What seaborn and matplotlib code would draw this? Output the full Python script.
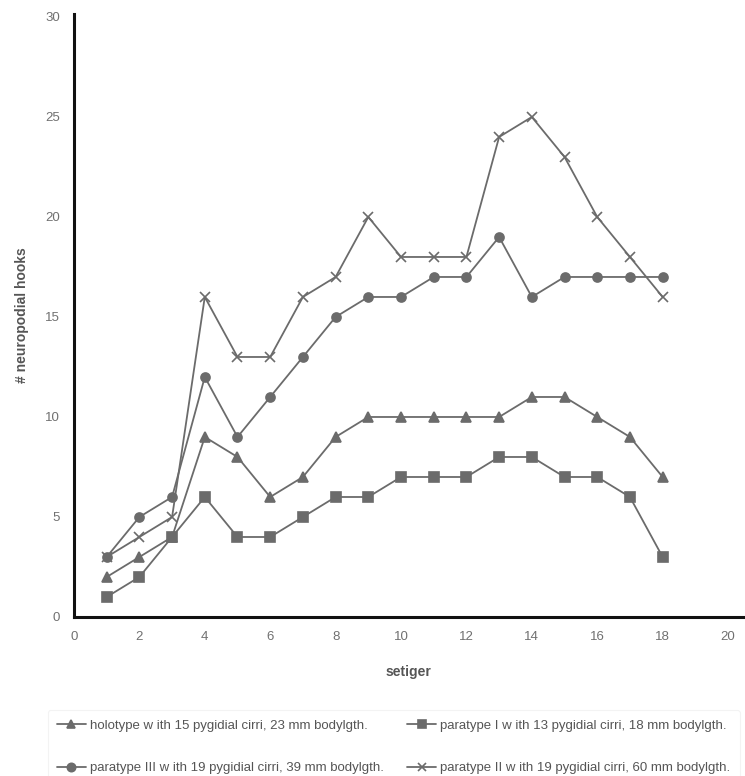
import pandas as pd
import numpy as np
import seaborn as sns
import matplotlib.pyplot as plt

setiger = list(range(1, 19))
holotype = [2, 3, 4, 9, 8, 6, 7, 9, 10, 10, 10, 10, 10, 11, 11, 10, 9, 7]
paratype_1 = [1, 2, 4, 6, 4, 4, 5, 6, 6, 7, 7, 7, 8, 8, 7, 7, 6, 3]
paratype_3 = [3, 5, 6, 12, 9, 11, 13, 15, 16, 16, 17, 17, 19, 16, 17, 17, 17, 17]
paratype_2 = [3, 4, 5, 16, 13, 13, 16, 17, 20, 18, 18, 18, 24, 25, 23, 20, 18, 16]

names = ['holotype w ith 15 pygidial cirri, 23 mm bodylgth.',
         'paratype I w ith 13 pygidial cirri, 18 mm bodylgth.',
         'paratype III w ith 19 pygidial cirri, 39 mm bodylgth.',
         'paratype II w ith 19 pygidial cirri, 60 mm bodylgth.']
series = [holotype, paratype_1, paratype_3, paratype_2]
marker_list = ['^', 's', 'o', 'x']

df = pd.concat([pd.DataFrame({'setiger': setiger, 'hooks': s, 'specimen': n})
                for n, s in zip(names, series)])

sns.set_style('white')
plt.rcParams['font.family'] = ['Liberation Sans', 'DejaVu Sans']

fig = plt.figure(figsize=(7.45, 7.76), dpi=100)
ax = fig.add_axes([0.0993, 0.2049, 0.8977, 0.7771])

grey = '#6b6b6b'
for n, m in zip(names, marker_list):
    sns.lineplot(data=df[df['specimen'] == n], x='setiger', y='hooks',
                 color=grey, marker=m, markersize=6.5, markeredgewidth=1.2,
                 markeredgecolor=grey, linewidth=1.3, ax=ax, label=n)
ax.get_legend().remove()

ax.set_xlim(0, 20.45)
ax.set_ylim(0, 30.15)
ax.set_xticks(np.arange(0, 21, 2))
ax.set_yticks(np.arange(0, 31, 5))
ax.tick_params(length=0, labelsize=9.5, labelcolor='#707070', pad=10)
for side in ['top', 'right']:
    ax.spines[side].set_visible(False)
for side in ['left', 'bottom']:
    ax.spines[side].set_color('#111111')
    ax.spines[side].set_linewidth(2.2)

ax.set_xlabel('setiger', fontsize=10, fontweight='bold', color='#555555', labelpad=16)
ax.set_ylabel('# neuropodial hooks', fontsize=10, fontweight='bold', color='#555555', labelpad=12)

handles = [plt.Line2D([], [], color=grey, marker=m, markersize=6, linewidth=1.3,
                      markeredgecolor=grey, markeredgewidth=1.2) for m in marker_list]
order = [0, 2, 1, 3]
leg = fig.legend([handles[i] for i in order], [names[i] for i in order],
                 loc='lower left', bbox_to_anchor=(0.055, -0.018), ncol=2,
                 frameon=True, fontsize=9.5, handlelength=2.2, handletextpad=0.3,
                 columnspacing=1.8, labelspacing=2.3, borderpad=0.7)
leg.get_frame().set_edgecolor('#f0f0f0')
leg.get_frame().set_linewidth(0.8)
for t in leg.get_texts():
    t.set_color('#555555')

fig.savefig('out.png', dpi=100)
